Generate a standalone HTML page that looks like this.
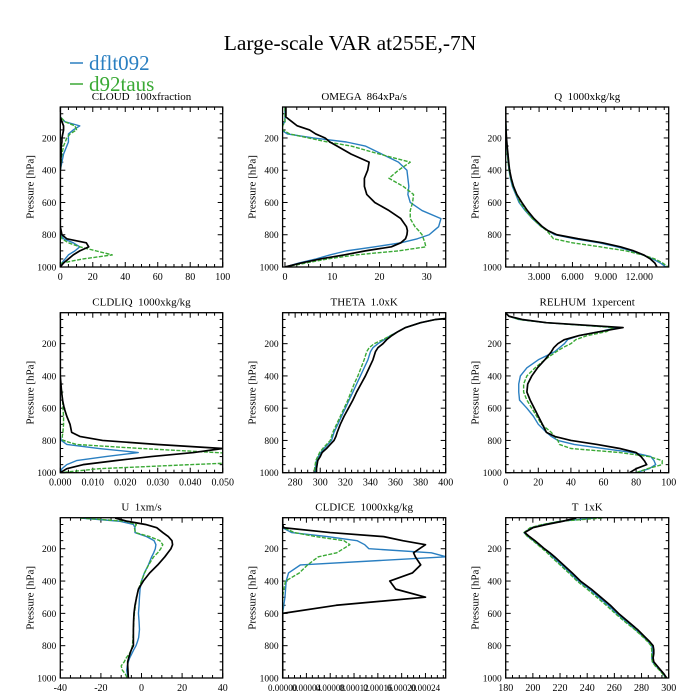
<!DOCTYPE html>
<html><head><meta charset="utf-8">
<style>
html,body{margin:0;padding:0;background:#fff;}
svg{display:block;font-family:"Liberation Serif",serif;}
text{white-space:pre;}
</style></head>
<body>
<svg id="chart" width="700" height="700" viewBox="0 0 700 700" xmlns="http://www.w3.org/2000/svg">
<text x="350" y="50" font-size="21.5" text-anchor="middle">Large-scale VAR at255E,-7N</text>
<g>
<line x1="70" y1="63" x2="83" y2="63" stroke="#2a7fc1" stroke-width="1.5"/>
<text x="89" y="70" font-size="21" fill="#2a7fc1">dflt092</text>
<line x1="70" y1="84" x2="83" y2="84" stroke="#3aa935" stroke-width="1.5"/>
<text x="89" y="91" font-size="21" fill="#3aa935">d92taus</text>
</g>
<g id="panels"></g>
</svg>
<script>
const levels = [10,30,50,70,100,125,150,175,200,225,250,300,350,400,450,500,550,600,650,700,750,775,800,825,850,875,900,925,950,975,1000];

const cloudBlue  = [0,0,0,0,3,12,8,5,5,5,4,2,1,0,0,0,0,0,0,0,0,0,0.5,2,8,12,9,5,3,1,0];
const cloudGreen = [0,0,0,0,3,9,10,6,4,3,2,1,0.5,0,0,0,0,0,0,0,0,0,0,1,5,12,22,32,14,1,0];
const cloudBlack = [0,0,0,0,1,2,2,1.5,1,1,0.5,0.5,0.3,0,0,0,0,0,0,0,0,0.5,1,4,16,17.5,12,8,5,2,0];

const omegaBlue  = [0,0,0,0,0,-0.8,-0.8,0.5,6,13,17,20.5,24,25.8,26,26.2,26,26.5,29,33,32.5,31.5,30.5,28,24.5,19,13,9.5,6.6,3,0];
const omegaGreen = [0,0,0,0,0,-0.5,-0.5,1,5,9,14,20,26.5,24,22,25,27.2,27,26.5,26.5,27.5,28.3,29,29.3,29.6,29.8,24,15,9,4.5,0];
const omegaBlack = [0.2,0.2,0.2,0.2,1.5,2.6,5.2,6.5,8.5,9.5,11,14,17.8,17.5,16.8,16.8,17.3,19,22,24.5,25.7,25.9,25.8,25.5,24.5,22.5,17,12.5,7.5,3.5,0];

const qBlue  = [0,0,0,0,0.01,0.02,0.03,0.04,0.05,0.08,0.1,0.15,0.22,0.3,0.42,0.6,0.9,1.2,1.75,2.4,3.2,3.8,4.4,6.2,8.4,10.0,11.3,12.3,13.2,13.9,14.4];
const qGreen = [0,0,0,0,0.01,0.02,0.03,0.04,0.05,0.08,0.1,0.15,0.22,0.3,0.45,0.65,0.95,1.3,1.8,2.4,3.2,3.7,4.0,4.3,6,8.5,10.8,12.3,13.4,14.1,14.6];
const qBlack = [0,0,0,0,0.01,0.02,0.03,0.05,0.07,0.1,0.13,0.2,0.27,0.35,0.5,0.7,1.0,1.45,1.95,2.55,3.3,3.8,4.6,6.5,8.7,10.3,11.5,12.4,13.0,13.4,13.6];

const liqBlue  = [0,0,0,0,0,0,0,0,0,0,0,0,0,0,0,0,0,0,0,0,0,0,0.0003,0.002,0.012,0.024,0.014,0.005,0.002,0.0005,0];
const liqGreen = [0,0,0,0,0,0,0,0,0,0,0,0,0,0,0,0.0005,0.0007,0.0008,0.001,0.001,0.0008,0.0006,0.0008,0.005,0.025,0.048,0.07,0.07,0.04,0.012,0];
const liqBlack = [0,0,0,0,0,0,0,0,0,0,0,0,0,0,0.0002,0.0004,0.0007,0.0012,0.002,0.003,0.0035,0.006,0.013,0.03,0.05,0.041,0.028,0.017,0.007,0.002,0];

const thetaBlue  = [500,420,392,380,368,362,356,351,346,342,340,338,335,332,329,326,323,320,317,314,311,310,309,306,303,300.5,298.5,297,296.5,296,296];
const thetaGreen = [500,420,392,380,368,362,356,350,343,339,337,335,332.5,330,327,324.5,322,319,316,313,310,309,308,305,302,299.5,298,296.5,296,295.5,295.5];
const thetaBlack = [500,420,392,380,368,362,357,353,350,346,344,342,339,336,332.5,329,326,322.5,319,316,313.5,312.5,311,308,305,301.5,300,298,297.5,297,297];

const rhBlue  = [0,2,8,25,68,58,45,38,36,33,30,20,13,9,8,8,8.5,13,17,20,25,28,32,42,60,78,89,91,92,88,80];
const rhGreen = [0,2,8,25,66,62,50,43,40,35,31,24,18,13,11,11,13,16,19,22,28,30,32,33,40,70,88,96,96,87,80];
const rhBlack = [0,2,10,25,72,58,45,36,32,29.5,28,24,19.5,16,13.5,13,15,17.5,20,22.5,25,30,40,56,70,80,83,85,86.5,80,76];

const uBlue  = [-30,-10.6,-4,-3.2,-3.2,2.5,6.2,7.1,6.8,6,5,3.4,1.4,0,-0.7,-1,-1.2,-1.5,-1.2,-1,-1.4,-2,-2.7,-3.8,-4.8,-5.8,-6.5,-7,-7.3,-7,-6.5];
const uGreen = [-30,-8,-2.5,-3.5,-3,4,9,10.5,9.5,8,6,3.5,1.5,0,-1.5,-2.5,-3,-3.5,-3.8,-4,-4.2,-4.3,-4.5,-5,-6,-7.5,-8.5,-10,-9.5,-8,-7];
const uBlack = [-13,-7,2,7.5,10.5,13.2,15,15.3,14.5,13,11.5,8,4,0.9,-1.5,-2.4,-3.2,-3.7,-3.9,-4,-4,-4,-4,-5,-5.7,-6.3,-6.8,-6.8,-6.7,-6.6,-6.5];

const iceBlue  = [0,0,0,0,1.5,7.5,12.5,13.8,14.5,25,27.5,3,1,0.6,0.5,0.4,0.2,0,0,0,0,0,0,0,0,0,0,0,0,0,0];
const iceGreen = [0,0,0,0.2,2,5.6,10.3,11.3,10.2,9.1,6,4.2,2.8,0.5,0.2,0,0,0,0,0,0,0,0,0,0,0,0,0,0,0,0];
const iceBlack = [0,0,0,0.2,8,17,20.2,24,23,22,22.3,23.2,21.8,18,19,24,9,0,0,0,0,0,0,0,0,0,0,0,0,0,0];

const tBlue  = [245,220,208,199,193.5,196.5,200.5,204,208,211.5,214.5,221,227.5,233.5,241.5,248.5,255.5,261.5,268.5,275.5,282,285,287.5,288,288,287.5,288,290.5,293.5,296,298];
const tGreen = [251,220,207,198,193.5,196,200,203.5,207,210.5,213.5,220,226.5,232.5,240,247,254,260.5,267.5,275,281.5,284.5,287,287.5,287.5,287.5,288,290,293,295.5,297.5];
const tBlack = [232,222,210,200,194,197.5,201.5,205,208.5,212.5,216,222.5,229,235,243,250,257,263,270,277,283,286,288.5,289,289,288.5,289,291.5,294,296.5,298.5];

const cloudTicks = ["0","20","40","60","80","100"];
const omegaTicks = ["0","10","20","30"];
const qTicks = ["3.000","6.000","9.000","12.000"];
const liqTicks = ["0.000","0.010","0.020","0.030","0.040","0.050"];
const thetaTicks = ["280","300","320","340","360","380","400"];
const rhTicks = ["0","20","40","60","80","100"];
const uTicks = ["-40","-20","0","20","40"];
const iceTicks = ["0.00000","0.00004","0.00008","0.00012","0.00016","0.00020","0.00024"];
const tTicks = ["180","200","220","240","260","280","300"];
const pTicks = [200,400,600,800,1000];

const NS = "http://www.w3.org/2000/svg";
const root = document.getElementById("panels");
function mk(tag, attrs, parent){
  const e = document.createElementNS(NS, tag);
  for (const k in attrs) e.setAttribute(k, attrs[k]);
  parent.appendChild(e);
  return e;
}
const cols = [[60.3,222.7],[282.6,445.7],[505.7,668.7]];
const rows = [[107,267],[312.7,472.7],[517.7,678]];
const BLUE="#2a7fc1", GREEN="#3aa935";

const panels = [
 {id:"cloud", title:"CLOUD  100xfraction", c:0, r:0, xmin:0, xmax:100, ticks:cloudTicks, scale:1, minor:5, series:[cloudBlue,cloudGreen,cloudBlack]},
 {id:"omega", title:"OMEGA  864xPa/s", c:1, r:0, xmin:-0.5, xmax:34, ticks:omegaTicks, scale:1, minor:2.5, series:[omegaBlue,omegaGreen,omegaBlack]},
 {id:"q", title:"Q  1000xkg/kg", c:2, r:0, xmin:0, xmax:14.65, ticks:qTicks, scale:1, minor:0.75, series:[qBlue,qGreen,qBlack]},
 {id:"cldliq", title:"CLDLIQ  1000xkg/kg", c:0, r:1, xmin:0, xmax:0.05, ticks:liqTicks, scale:1, minor:0.0025, series:[liqBlue,liqGreen,liqBlack]},
 {id:"theta", title:"THETA  1.0xK", c:1, r:1, xmin:270, xmax:400, ticks:thetaTicks, scale:1, minor:5, series:[thetaBlue,thetaGreen,thetaBlack]},
 {id:"relhum", title:"RELHUM  1xpercent", c:2, r:1, xmin:0, xmax:100, ticks:rhTicks, scale:1, minor:5, series:[rhBlue,rhGreen,rhBlack]},
 {id:"u", title:"U  1xm/s", c:0, r:2, xmin:-40, xmax:40, ticks:uTicks, scale:1, minor:5, series:[uBlue,uGreen,uBlack]},
 {id:"cldice", title:"CLDICE  1000xkg/kg", c:1, r:2, xmin:0, xmax:0.000274, ticks:iceTicks, scale:1e-5, minor:0.00001, series:[iceBlue,iceGreen,iceBlack]},
 {id:"t", title:"T  1xK", c:2, r:2, xmin:180, xmax:300, ticks:tTicks, scale:1, minor:5, series:[tBlue,tGreen,tBlack]}
];

const PMIN=8, PMAX=1000;
panels.forEach(cfg=>{
  const [x0,x1]=cols[cfg.c], [y0,y1]=rows[cfg.r];
  const xmin=cfg.xmin, xmax=cfg.xmax;
  const xs = v => x0+(v-xmin)/(xmax-xmin)*(x1-x0);
  const ys = p => y0+(p-PMIN)/(PMAX-PMIN)*(y1-y0);
  const g = mk("g",{},root);
  
  

  const t = mk("text",{x:(x0+x1)/2,y:y0-7,"font-size":"11","text-anchor":"middle"},g);
  t.textContent = cfg.title;
  
  

  const yt = mk("text",{x:0,y:0,"font-size":"11","text-anchor":"middle",transform:`translate(${x0-27},${(y0+y1)/2}) rotate(-90)`},g);
  yt.textContent = "Pressure [hPa]";
  
  

  const clipId = "clip-"+cfg.id;
  const cp = mk("clipPath",{id:clipId},g);
  mk("rect",{x:x0,y:y0,width:x1-x0,height:y1-y0},cp);

  const ticks = mk("g",{stroke:"#000","stroke-width":"1"},g);
  
  
  for (let p=50;p<=1000;p+=50){
    const y=ys(p), L=(p%200===0)?5:3;
    mk("line",{x1:x0,y1:y,x2:x0+L,y2:y},ticks);
    mk("line",{x1:x1,y1:y,x2:x1-L,y2:y},ticks);
  }
  pTicks.forEach(p=>{
    const lb = mk("text",{x:x0-4,y:ys(p)+3.5,"font-size":"9.5","text-anchor":"end"},g);
    lb.textContent = String(p);
    
    
  });
  const majors = cfg.ticks.map(s=>parseFloat(s));
  const first = Math.ceil(xmin/cfg.minor - 1e-9)*cfg.minor;
  for (let v=first; v<=xmax+1e-12; v+=cfg.minor){
    const isMaj = majors.some(m=>Math.abs(m-v)<cfg.minor*0.01);
    const x=xs(v), L=isMaj?5:3;
    mk("line",{x1:x,y1:y1,x2:x,y2:y1-L},ticks);
    mk("line",{x1:x,y1:y0,x2:x,y2:y0+L},ticks);
  }
  cfg.ticks.forEach(s=>{
    const lb = mk("text",{x:xs(parseFloat(s)),y:y1+13,"font-size":cfg.id==="cldice"?"9":"10","text-anchor":"middle"},g);
    lb.textContent = s;
    
    
  });

  const names=["dflt092","d92taus","black"], colors=[BLUE,GREEN,"#000"];
  cfg.series.forEach((arr,i)=>{
    const d = arr.map((v,k)=>(k?"L":"M")+xs(v*cfg.scale).toFixed(2)+","+ys(levels[k]).toFixed(2)).join("");
    const path = mk("path",{d:d,fill:"none",stroke:colors[i],"stroke-width":i===2?"1.7":"1.4","stroke-linejoin":"round","clip-path":`url(#${clipId})`},g);
    if(i===1) path.setAttribute("stroke-dasharray","4,1.5");
    
    
  });

  const fr = mk("rect",{x:x0,y:y0,width:x1-x0,height:y1-y0,fill:"none",stroke:"#000","stroke-width":"1.3"},g);
  
  
});
</script>
</body></html>
